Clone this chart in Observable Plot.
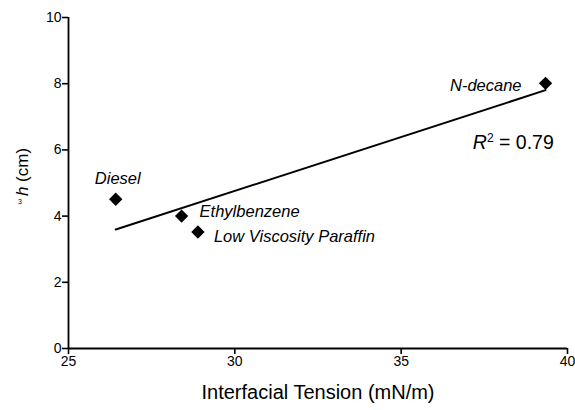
<!DOCTYPE html>
<html><head><meta charset="utf-8">
<script src="https://cdn.jsdelivr.net/npm/d3@7"></script>
<script src="https://cdn.jsdelivr.net/npm/@observablehq/plot@0.6"></script>
<style>html,body{margin:0;padding:0;background:#fff} svg{display:block}</style>
</head><body><div id="chart"></div>
<script>
// Data
const fluids  = ["Diesel", "Ethylbenzene", "Low Viscosity Paraffin", "N-decane"];
const tension = [26.42, 28.40, 28.89, 39.34];   // mN/m
const heights = [4.51, 4.00, 3.52, 8.01];       // cm
const xTicks  = [25, 30, 35, 40];
const yTicks  = [0, 2, 4, 6, 8, 10];
const xLabel  = "Interfacial Tension (mN/m)";
const rSquaredText = "0.79";

const data = fluids.map((name, i) => ({name, x: tension[i], y: heights[i]}));
const font = "'Liberation Sans', Arial, Helvetica, sans-serif";

function label(name, opts) {
  return Plot.text(data.filter(d => d.name === name), {
    x: "x", y: "y", text: "name", fontStyle: "italic", fontSize: 16.5, fill: "#000", ...opts
  });
}

const chart = Plot.plot({
  width: 575, height: 410,
  marginLeft: 68, marginRight: 8, marginTop: 17, marginBottom: 62,
  style: {fontFamily: font, fontSize: "14px", color: "#000", background: "#fff", overflow: "visible"},
  x: {domain: [25, 40]},
  y: {domain: [0, 10]},
  marks: [
    Plot.axisX({ticks: xTicks, tickSize: 6, tickPadding: 2, fontSize: 14, stroke: "#000", fill: "#000", strokeWidth: 1.6, label: null}),
    Plot.axisY({ticks: yTicks, tickSize: 6, tickPadding: 1, fontSize: 14, stroke: "#000", fill: "#000", strokeWidth: 1.6, label: null}),
    Plot.ruleX([25], {stroke: "#000", strokeWidth: 1.8}),
    Plot.ruleY([0], {stroke: "#000", strokeWidth: 1.8}),
    Plot.linearRegressionY(data, {x: "x", y: "y", ci: 0, stroke: "#000", strokeWidth: 2}),
    Plot.dot(data, {x: "x", y: "y", symbol: "diamond2", r: 6, fill: "#000", stroke: null}),
    label("Diesel", {textAnchor: "middle", dx: 2, dy: -21}),
    label("Ethylbenzene", {textAnchor: "start", dx: 18, dy: -4}),
    label("Low Viscosity Paraffin", {textAnchor: "start", dx: 16, dy: 5}),
    label("N-decane", {textAnchor: "end", dx: -24, dy: 2}),
    Plot.text([xLabel], {frameAnchor: "bottom", dy: 50, fontSize: 20, fill: "#000"})
  ]
});
document.getElementById("chart").appendChild(chart);

// Annotations with mixed styles
const svg = d3.select(chart);
const sx = chart.scale("x"), sy = chart.scale("y");

const r2 = svg.append("text")
  .attr("x", sx.apply(37.17)).attr("y", sy.apply(6.0))
  .attr("text-anchor", "start")
  .attr("font-family", font).attr("font-size", 19.5).attr("fill", "#000");
r2.append("tspan").attr("font-style", "italic").text("R");
r2.append("tspan").attr("font-size", 12).attr("dy", -7).text("2");
r2.append("tspan").attr("dy", 7).text(" = " + rSquaredText);

const yl = svg.append("text")
  .attr("transform", "translate(28,172) rotate(-90)")
  .attr("text-anchor", "middle")
  .attr("font-family", font).attr("font-size", 17).attr("fill", "#000");
yl.append("tspan").attr("font-style", "italic").text("h");
yl.append("tspan").text(" (cm)");

svg.append("text")
  .attr("x", 20).attr("y", 204)
  .attr("text-anchor", "middle")
  .attr("font-family", font).attr("font-size", 7).attr("fill", "#000")
  .text("3");
</script>
</body></html>
